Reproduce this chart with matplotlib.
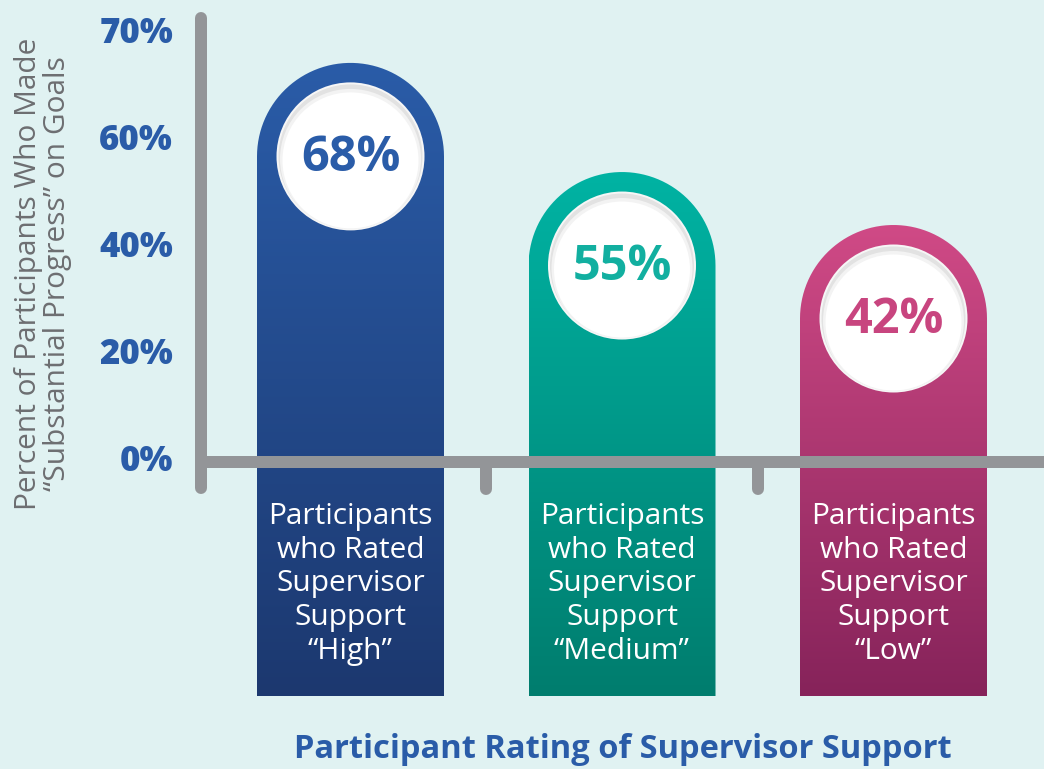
import numpy as np
import matplotlib
matplotlib.use("Agg")
import matplotlib.pyplot as plt
from matplotlib.patches import Ellipse, PathPatch
from matplotlib.path import Path
from matplotlib.colors import LinearSegmentedColormap

# ---- data ----
categories = ["Participants\nwho Rated\nSupervisor\nSupport\n\u201cHigh\u201d",
              "Participants\nwho Rated\nSupervisor\nSupport\n\u201cMedium\u201d",
              "Participants\nwho Rated\nSupervisor\nSupport\n\u201cLow\u201d"]
values = [68, 55, 42]
value_labels = ["68%", "55%", "42%"]
bar_tops = [74.6, 54.2, 44.3]          # visual top of rounded bars on axis scale
tick_positions = [0, 20, 40, 60, 80]
tick_labels = ["0%", "20%", "40%", "60%", "70%"]
ylabel = "Percent of Participants Who Made\n\u201cSubstantial Progress\u201d on Goals"
xlabel = "Participant Rating of Supervisor Support"

# ---- style ----
bg = "#E0F2F2"
axis_gray = "#939598"
top_colors = ["#2A5CA8", "#00B3A3", "#D04A86"]
bot_colors = ["#1C386F", "#007D6E", "#86235A"]
text_colors = ["#2A5CA8", "#12AFA0", "#C8457F"]
tick_color = "#2A5CA8"

W, H = 1044, 769
fig = plt.figure(figsize=(W / 100, H / 100), dpi=100, facecolor=bg)
ax = fig.add_axes([0, 0, 1, 1])
ax.set_facecolor(bg)

x0_px, dx_px = 350.5, 271.5           # category 0 center, spacing
y0_px, dy_px = 462.0, 5.35            # baseline pixel (from top), px per unit
ax.set_xlim(-x0_px / dx_px, (W - x0_px) / dx_px)
ax.set_ylim(-(H - y0_px) / dy_px, y0_px / dy_px)
ax.axis("off")

def px_x(p):
    return p / dx_px
def px_y(p):
    return p / dy_px

bar_half = px_x(93.5)
cap_ry = px_y(93.5)
bar_bottom = -px_y(696 - y0_px)
circ_r = 74

for i, (top, val) in enumerate(zip(bar_tops, value_labels)):
    xc = i
    cy = top - cap_ry
    n = 60
    theta = np.linspace(0, np.pi, n)
    arc_x = xc + bar_half * np.cos(theta)
    arc_y = cy + cap_ry * np.sin(theta)
    verts = [(xc - bar_half, bar_bottom), (xc + bar_half, bar_bottom)]
    verts += list(zip(arc_x, arc_y))
    verts += [(xc - bar_half, bar_bottom)]
    codes = [Path.MOVETO] + [Path.LINETO] * (len(verts) - 2) + [Path.CLOSEPOLY]
    patch = PathPatch(Path(verts, codes), facecolor="none", edgecolor="none", zorder=2)
    ax.add_patch(patch)
    cmap = LinearSegmentedColormap.from_list(f"g{i}", [bot_colors[i], top_colors[i]])
    grad = np.linspace(0, 1, 256).reshape(-1, 1)
    im = ax.imshow(grad, cmap=cmap, aspect="auto", origin="lower",
                   extent=[xc - bar_half, xc + bar_half, bar_bottom, top],
                   zorder=2, interpolation="bicubic")
    im.set_clip_path(patch)

    # white circle with subtle inner shadow
    ax.add_patch(Ellipse((xc, cy), 2 * px_x(circ_r), 2 * px_y(circ_r),
                         facecolor="#F6F6F6", edgecolor="none", zorder=3))
    ax.add_patch(Ellipse((xc, cy), 2 * px_x(circ_r - 2), 2 * px_y(circ_r - 2),
                         facecolor="#E2E2E2", edgecolor="none", zorder=3))
    ax.add_patch(Ellipse((xc, cy - px_y(2.5)), 2 * px_x(circ_r - 3.5), 2 * px_y(circ_r - 4),
                         facecolor="#F3F3F3", edgecolor="none", zorder=3))
    ax.add_patch(Ellipse((xc, cy - px_y(4)), 2 * px_x(circ_r - 6), 2 * px_y(circ_r - 6),
                         facecolor="white", edgecolor="none", zorder=3))
    ax.text(xc, cy - px_y(2), val, ha="center", va="center", fontsize=35, fontweight="bold",
            color=text_colors[i], family="Open Sans", zorder=4)

    ax.text(xc, -px_y(584 - y0_px), categories[i], ha="center", va="center",
            fontsize=21.5, color="white", family="Open Sans", linespacing=1.22,
            zorder=4)

lw = 12 * 72 / 100
ax.plot([px_x(201 - x0_px)] * 2, [px_y(y0_px - 18), -px_y(488 - y0_px)],
        color=axis_gray, lw=lw, solid_capstyle="round", zorder=5)
ax.plot([px_x(201 - x0_px), px_x(W + 20 - x0_px)], [0, 0],
        color=axis_gray, lw=lw, solid_capstyle="butt", zorder=5)
for s in [0.5, 1.5]:
    ax.plot([s, s], [0, -px_y(489 - y0_px)], color=axis_gray, lw=lw,
            solid_capstyle="round", zorder=5)

for pos, lab in zip(tick_positions, tick_labels):
    ax.text(px_x(173 - x0_px), pos, lab, ha="right", va="center", fontsize=25,
            fontweight=800, color=tick_color, family="Open Sans", zorder=5)

fig.text(43 / W, 1 - 274 / H, ylabel, rotation=90, ha="center", va="center",
         fontsize=21.5, color="#6D6E71", family="Open Sans", linespacing=1.0)
fig.text(623 / W, 1 - 750 / H, xlabel, ha="center", va="center", fontsize=23.5,
         fontweight="bold", color=tick_color, family="Open Sans")

fig.savefig("out.png", dpi=100, facecolor=bg)
